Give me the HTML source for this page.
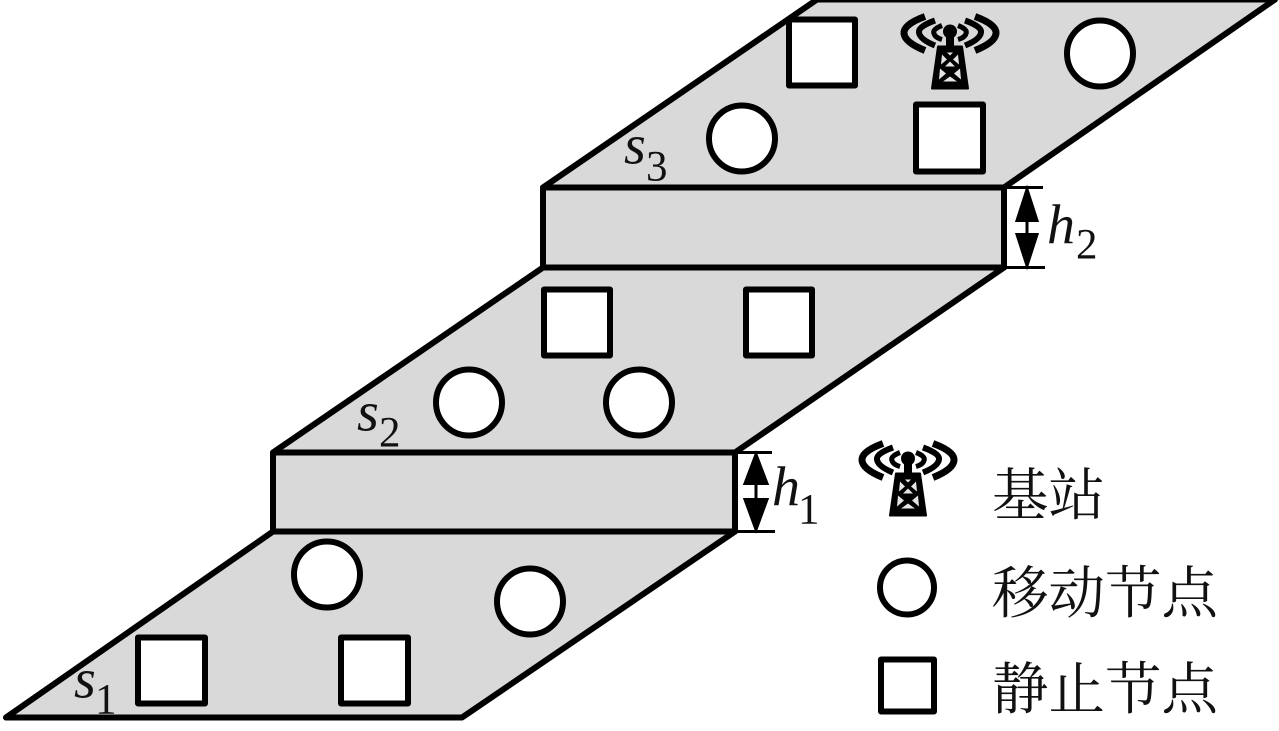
<!DOCTYPE html>
<html><head><meta charset="utf-8"><style>
html,body{margin:0;padding:0;background:#fff;width:1279px;height:731px;overflow:hidden}
svg{display:block}
.i{font-family:"Liberation Serif",serif;font-style:italic;font-size:56px;fill:#111}
.n{font-family:"Liberation Serif",serif;font-size:43px;fill:#111}
.c{font-family:"Noto Serif CJK SC","Noto Sans CJK SC",serif;font-size:56.5px;fill:#111}
</style></head><body>
<svg width="1279" height="731" viewBox="0 0 1279 731" xmlns="http://www.w3.org/2000/svg">
<defs>
<g id="t">
<g fill="none" stroke="#000" stroke-linecap="butt">
<path d="M-8 -6Q-18 -2 -16 2Q-15 6 -8 8" stroke-width="5"/>
<path d="M8 -6Q18 -2 16 2Q15 6 8 8" stroke-width="5"/>
<path d="M-15 -11Q-32 -5 -31 1Q-30 8 -15 14" stroke-width="6"/>
<path d="M15 -11Q32 -5 31 1Q30 8 15 14" stroke-width="6"/>
<path d="M-25 -15Q-47 -7 -46 2Q-45 11 -25 19" stroke-width="7"/>
<path d="M25 -15Q47 -7 46 2Q45 11 25 19" stroke-width="7"/>
</g>
<circle cx="0" cy="0" r="7" fill="#000"/>
<rect x="-4" y="4" width="8" height="14" fill="#000"/>
<path d="M-12 15H12L18 57H-18Z" fill="#000" stroke="#000" stroke-width="2" stroke-linejoin="round"/>
<path d="M-3 21H3L0 24ZM-8 23L-3 28L-9 33ZM8 23L3 28L9 33ZM0 30L5 35H-5ZM-10 37L-4 42L-11 48ZM10 37L4 42L11 48ZM0 45L7 50H-7Z" fill="#e4e4e4"/>
</g>
</defs>
<g transform="translate(0 0.5)">
<g stroke="#000" stroke-width="6" stroke-linejoin="round" fill="#d9d9d9">
<path d="M6 717H462L735 531H273Z"/>
<rect x="273" y="452" width="462" height="79"/>
<path d="M273 452L543 267H1004L735 452Z"/>
<rect x="543" y="187" width="461" height="80"/>
<path d="M543 187L817 -1H1275L1004 187Z"/>
</g>
<g stroke="#000" stroke-width="6" stroke-linejoin="round" fill="#fff">
<rect x="138" y="637" width="67" height="66"/>
<rect x="341" y="637" width="67" height="66"/>
<rect x="544" y="289" width="66" height="66"/>
<rect x="746" y="289" width="66" height="66"/>
<rect x="789" y="19" width="66" height="66"/>
<rect x="916" y="104" width="67" height="67"/>
<circle cx="327" cy="574" r="33"/>
<circle cx="530" cy="601" r="33"/>
<circle cx="469" cy="402" r="33"/>
<circle cx="639" cy="402" r="33"/>
<circle cx="742" cy="138" r="33"/>
<circle cx="1100" cy="53" r="33"/>
<circle cx="907" cy="587" r="27"/>
<rect x="881" y="659" width="53" height="52"/>
</g>
<use href="#t" x="950" y="31"/>
<use href="#t" x="908" y="458"/>
<g stroke="#000" stroke-width="3" fill="#000">
<path d="M735 452H772M735 531H775M1004 187H1043M1004 267H1045" fill="none"/>
<path d="M756 460V524M1027 192V262" fill="none"/>
<path d="M756 454L767 483H745ZM756 529L767 499H745Z"/>
<path d="M1027 189L1037 220H1017ZM1027 265L1037 234H1017Z"/>
</g>
<text class="i" x="74" y="697">s</text><text class="n" x="95" y="713">1</text>
<text class="i" x="357" y="430">s</text><text class="n" x="379" y="446">2</text>
<text class="i" x="624" y="163">s</text><text class="n" x="646" y="180">3</text>
<text class="i" x="772" y="505">h</text><text class="n" x="798" y="523">1</text>
<text class="i" x="1047" y="243">h</text><text class="n" x="1076" y="258">2</text>
<text class="c" x="992" y="514">基站</text>
<text class="c" x="992" y="612">移动节点</text>
<text class="c" x="992" y="708">静止节点</text>
</g>
</svg>
</body></html>
